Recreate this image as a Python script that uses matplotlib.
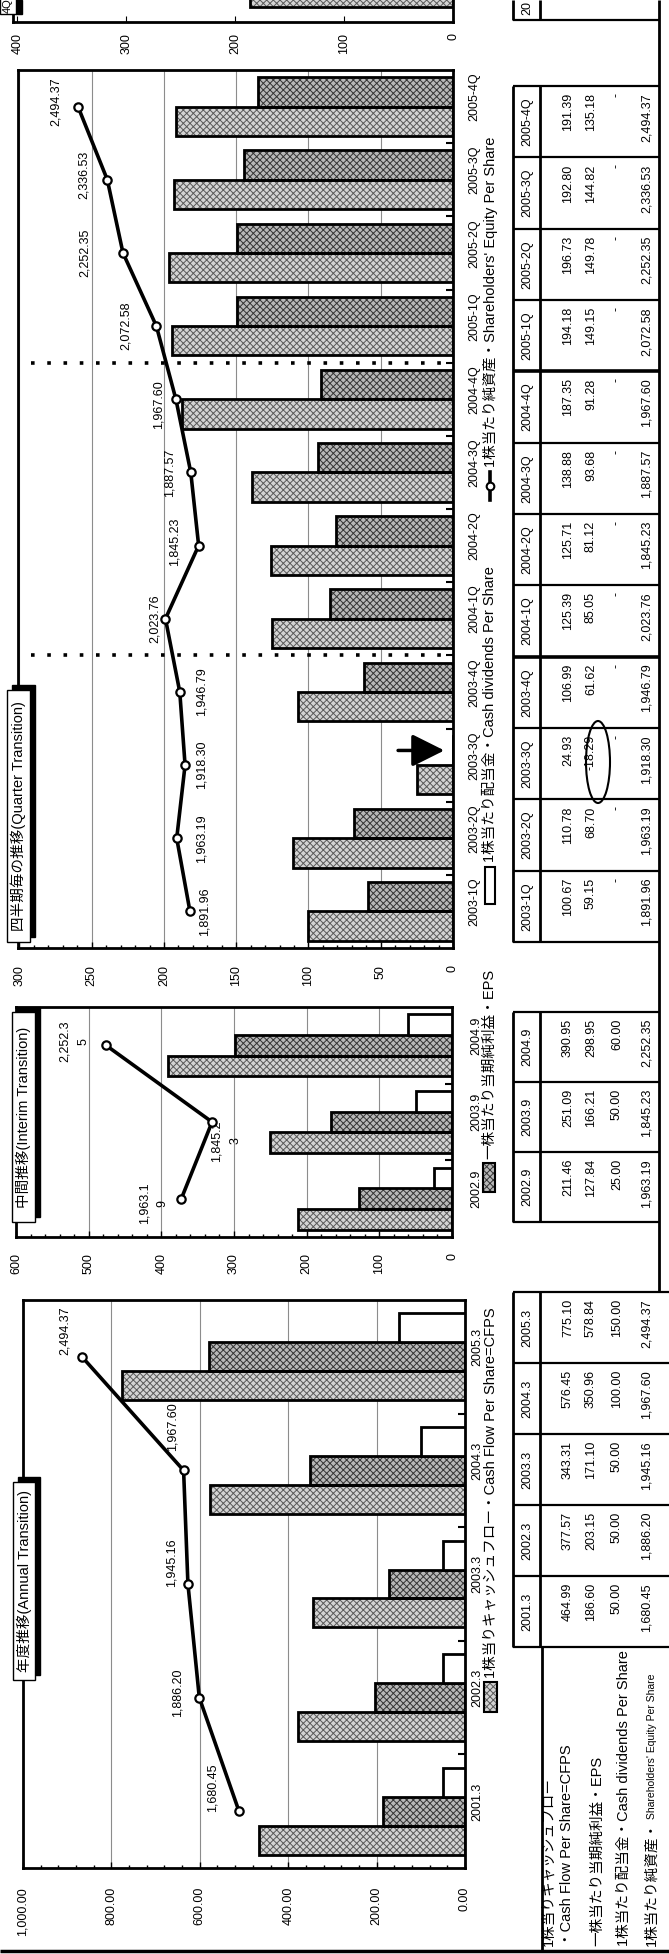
import matplotlib.pyplot as plt
from matplotlib import font_manager, transforms
from matplotlib.patches import Rectangle, Ellipse
from matplotlib.lines import Line2D
from matplotlib.ticker import MultipleLocator

# per share figures (page is turned 90 degrees)

# annual
annual_years = ['2001.3', '2002.3', '2003.3', '2004.3', '2005.3']
annual_cfps = [464.99, 377.57, 343.31, 576.45, 775.10]
annual_eps = [186.60, 203.15, 171.10, 350.96, 578.84]
annual_div = [50.00, 50.00, 50.00, 100.00, 150.00]
annual_bps = [1680.45, 1886.20, 1945.16, 1967.60, 2494.37]

# interim
interim_years = ['2002.9', '2003.9', '2004.9']
interim_cfps = [211.46, 251.09, 390.95]
interim_eps = [127.84, 166.21, 298.95]
interim_div = [25.00, 50.00, 60.00]
interim_bps = [1963.19, 1845.23, 2252.35]

# quarterly
quarters = ['2003-1Q', '2003-2Q', '2003-3Q', '2003-4Q', '2004-1Q', '2004-2Q',
            '2004-3Q', '2004-4Q', '2005-1Q', '2005-2Q', '2005-3Q', '2005-4Q']
q_cfps = [100.67, 110.78, 24.93, 106.99, 125.39, 125.71,
          138.88, 187.35, 194.18, 196.73, 192.80, 191.39]
q_eps = [59.15, 68.70, -18.29, 61.62, 85.05, 81.12,
         93.68, 91.28, 149.15, 149.78, 144.82, 135.18]
q_div = [None, None, None, None, None, None,
         None, None, None, None, None, None]
q_bps = [1891.96, 1963.19, 1918.30, 1946.79, 2023.76, 1845.23,
         1887.57, 1967.60, 2072.58, 2252.35, 2336.53, 2494.37]

# axis ticks
annual_ticks = [0, 200, 400, 600, 800, 1000]
interim_ticks = [0, 100, 200, 300, 400, 500, 600]
quarter_ticks = [0, 50, 100, 150, 200, 250, 300]
top_ticks = [0, 100, 200, 300, 400]
top_cut_bar = [186]   # bottom end of a bar of the next (cut off) panel

row_labels = ['1株当りキャッシュフロー', '・Cash Flow Per Share=CFPS',
              '一株当たり当期純利益・EPS', '1株当たり配当金・Cash dividends Per Share',
              '1株当たり純資産・']
row_label_small = "Shareholders' Equity Per Share"
legend_cfps = '1株当りキャッシュフロー・Cash Flow Per Share=CFPS'
legend_eps = '一株当たり当期純利益・EPS'
legend_div = '1株当たり配当金・Cash dividends Per Share'
legend_bps = "1株当たり純資産・Shareholders' Equity Per Share"

# ---- fonts ----
names = {f.name for f in font_manager.fontManager.ttflist}
LAT = 'Liberation Sans' if 'Liberation Sans' in names else 'DejaVu Sans'
NAR = 'Liberation Sans Narrow' if 'Liberation Sans Narrow' in names else LAT
JP = 'Noto Sans CJK JP'
plt.rcParams['font.family'] = [LAT, JP]
plt.rcParams['hatch.linewidth'] = 0.7
NARROW = [NAR, JP]

W, H = 669, 1954
fig = plt.figure(figsize=(W / 100, H / 100), dpi=100)
fig.patch.set_facecolor('white')


def fx(x):
    return x / W


def fy(y):
    return 1 - y / H


def px_rect(x0, y0, x1, y1):
    return [fx(x0), fy(y1), (x1 - x0) / W, (y1 - y0) / H]


def seg(x0, y0, x1, y1, lw=1.5):
    fig.add_artist(Line2D([fx(x0), fx(x1)], [fy(y0), fy(y1)], color='black',
                          lw=lw, solid_capstyle='butt'))


def rtext(x, y, s, **kw):
    kw.setdefault('rotation', 90)
    return fig.text(fx(x), fy(y), s, **kw)


CFPS_STYLE = ('#d4d4d4', '#5a5a5a')
EPS_STYLE = ('#b8b8b8', '#343434')


def pattern_bars(ax, pos, vals, h, style):
    ax.barh(pos, vals, height=h, color=style[0], edgecolor=style[1], hatch='xxxxx',
            linewidth=0, zorder=2)
    ax.barh(pos, vals, height=h, fill=False, edgecolor='black', linewidth=2, zorder=3)


def white_bars(ax, pos, vals, h):
    ax.barh(pos, vals, height=h, color='white', edgecolor='black', linewidth=2, zorder=3)


def setup_chart(box, vmax, ticks, fmt, n, pad, minor):
    ax = fig.add_axes(px_rect(*box))
    ax.set_xlim(vmax, 0)
    ax.set_ylim(-0.5, n - 0.5)
    ax.set_xticks(ticks)
    ax.set_xticklabels([fmt.format(t) for t in ticks], rotation=90, fontsize=9)
    ax.xaxis.set_minor_locator(MultipleLocator(minor))
    ax.tick_params(axis='x', which='both', direction='in', length=4, width=1,
                   pad=pad, top=False)
    ax.tick_params(axis='x', which='minor', length=2.5)
    ax.yaxis.tick_right()
    ax.set_yticks([i + 0.5 for i in range(n - 1)])
    ax.tick_params(axis='y', direction='in', length=5, width=1.5, labelright=False)
    for s in ax.spines.values():
        s.set_linewidth(2)
    ax.grid(axis='x', color='#8c8c8c', lw=0.8)
    ax.set_axisbelow(True)
    return ax


def bps_line(ax, vals, lim, texts, offsets):
    ax2 = ax.twiny()
    ax2.set_xlim(*lim)
    ax2.axis('off')
    ys = list(range(len(vals)))
    ax2.plot(vals, ys, color='black', lw=2.6, marker='o', ms=6, mfc='white',
             mec='black', mew=1.6, zorder=5)
    for v, y, t, (dx, dy) in zip(vals, ys, texts, offsets):
        ax2.annotate(t, (v, y), xytext=(dx * 0.72, -dy * 0.72), textcoords='offset points',
                     rotation=90, ha='center', va='center', fontsize=9,
                     linespacing=1.7, multialignment='center')
    return ax2


def cat_labels(ax, labels, xpx):
    tr = transforms.blended_transform_factory(fig.transFigure, ax.transData)
    tr = transforms.offset_copy(tr, fig=fig, y=7, units='points')
    for i, lab in enumerate(labels):
        ax.text(fx(xpx), i, lab, transform=tr, rotation=90, ha='center', va='center',
                fontsize=9, family=NARROW, clip_on=False)


def title_box(x0, y0, x1, y1, text):
    fig.add_artist(Rectangle((fx(x0 + 5), fy(y1 - 5)), (x1 - x0) / W, (y1 - y0) / H,
                             transform=fig.transFigure, color='black', zorder=4))
    fig.add_artist(Rectangle((fx(x0), fy(y1)), (x1 - x0) / W, (y1 - y0) / H,
                             transform=fig.transFigure, facecolor='white',
                             edgecolor='black', lw=1, zorder=5))
    t = rtext((x0 + x1) / 2, (y0 + y1) / 2, text, ha='center', va='center', fontsize=10.5)
    t.set_zorder(6)


def legend_patch(x0, y0, x1, y1, style=None):
    if style is None:
        p = Rectangle((fx(x0), fy(y1)), (x1 - x0) / W, (y1 - y0) / H, transform=fig.transFigure,
                      facecolor='white', edgecolor='black', lw=1.5, zorder=6)
        fig.add_artist(p)
        return
    fig.add_artist(Rectangle((fx(x0), fy(y1)), (x1 - x0) / W, (y1 - y0) / H,
                             transform=fig.transFigure, facecolor=style[0],
                             edgecolor=style[1], hatch='xxxxx', lw=0, zorder=6))
    fig.add_artist(Rectangle((fx(x0), fy(y1)), (x1 - x0) / W, (y1 - y0) / H,
                             transform=fig.transFigure, fill=False,
                             edgecolor='black', lw=1.5, zorder=7))


def val_fmt(v):
    return '-' if v is None else f'{v:,.2f}'


VAL_X = [568, 591, 617, 647]


def draw_table(cols, series, y_top, pitch, thick=(), right=659):
    n = len(cols)
    y_bot = y_top + n * pitch
    seg(513, y_top, 513, y_bot, 2)
    seg(540, y_top, 540, y_bot, 2)
    for k in range(n + 1):
        yk = y_top + k * pitch
        seg(513, yk, right, yk, 2.6 if k in thick else 1.6)
    for k, col in enumerate(cols):
        yc = y_top + (k + 0.5) * pitch
        rtext(527, yc, col, ha='center', va='center', fontsize=9, family=NARROW)
        for xv, vals in zip(VAL_X, series):
            rtext(xv, y_top + k * pitch + 7, val_fmt(vals[k]), rotation_mode='anchor',
                  ha='right', va='center', fontsize=9)


# ---------------- annual chart ----------------
ax_a = setup_chart((23, 1300, 465, 1868), 1000, annual_ticks, '{:,.2f}', 5, 13.5, 40)
bw = 0.255
pattern_bars(ax_a, [i - bw for i in range(5)], annual_cfps, bw, CFPS_STYLE)
pattern_bars(ax_a, list(range(5)), annual_eps, bw, EPS_STYLE)
white_bars(ax_a, [i + bw for i in range(5)], annual_div, bw)
bps_line(ax_a, annual_bps, (2800, 509), [f'{v:,.2f}' for v in annual_bps],
         [(-26, -23), (-22, -5), (-16, -21), (-11, -44), (-17, -26)])
cat_labels(ax_a, annual_years, 477)
title_box(13, 1482, 35, 1680, '年度推移(Annual Transition)')

# ---------------- interim chart ----------------
ax_i = setup_chart((16, 1007, 452, 1237), 600, interim_ticks, '{:d}', 3, 11.5, 20)
bw = 0.27
pattern_bars(ax_i, [i - bw for i in range(3)], interim_cfps, bw, CFPS_STYLE)
pattern_bars(ax_i, list(range(3)), interim_eps, bw, EPS_STYLE)
white_bars(ax_i, [i + bw for i in range(3)], interim_div, bw)
itexts = [f'{v:,.2f}'[:-1] + '\n' + f'{v:,.2f}'[-1] for v in interim_bps]
bps_line(ax_i, interim_bps, (2598, 924), itexts, [(-28, 5), (14, 19), (-32, -4)])
cat_labels(ax_i, interim_years, 476)
title_box(12, 1012, 35, 1222, '中間推移(Interim Transition)')

# ---------------- quarterly chart ----------------
ax_q = setup_chart((18, 70, 453, 948), 301, quarter_ticks, '{:d}', 12, 12, 10)
bw = 0.40
pattern_bars(ax_q, [i - bw / 2 for i in range(12)], q_cfps, bw, CFPS_STYLE)
pattern_bars(ax_q, [i + bw / 2 for i in range(12)], q_eps, bw, EPS_STYLE)
for yb in (3.5, 7.5):
    ax_q.axhline(yb, xmin=0.03, color='black', lw=2.6, ls=(0, (1, 3.5)), zorder=4)
ax_q.annotate('', xy=(6, 2 + bw / 2), xytext=(38, 2 + bw / 2),
              arrowprops=dict(arrowstyle='-|>,head_length=0.9,head_width=0.45',
                              color='black', lw=2.5, mutation_scale=22,
                              shrinkA=0, shrinkB=0), zorder=6)
bps_line(ax_q, q_bps, (2817, 477), [f'{v:,.2f}' for v in q_bps],
         [(15, 0), (25, 0), (16, 0), (22, 0), (-11, 0), (-24, -4),
          (-21, 0), (-17, 5), (-31, 0), (-38, 0), (-24, -5), (-22, -5)])
cat_labels(ax_q, quarters, 474)
title_box(7, 690, 30, 942, '四半期毎の推移(Quarter Transition)')

# ---------------- next panel, cut off by the page edge ----------------
ax_t = fig.add_axes(px_rect(13, -200, 453, 22))
ax_t.set_xlim(404, 0)
ax_t.set_ylim(-1, 8)
pattern_bars(ax_t, [0], top_cut_bar, 0.8, CFPS_STYLE)
ax_t.set_xticks(top_ticks)
ax_t.set_xticklabels([str(t) for t in top_ticks], rotation=90, fontsize=9)
ax_t.tick_params(axis='x', direction='in', length=4, pad=8, top=False)
ax_t.set_yticks([])
for s in ax_t.spines.values():
    s.set_linewidth(2)
fig.add_artist(Rectangle((fx(16), fy(14)), 6 / W, 14 / H, transform=fig.transFigure,
                         color='black', zorder=4))
fig.add_artist(Rectangle((fx(0), fy(14)), 16 / W, 16 / H, transform=fig.transFigure,
                         facecolor='white', edgecolor='black', lw=1, zorder=5))
rtext(8, 6, '4Q', ha='center', va='center', fontsize=8).set_zorder(6)

# ---------------- legends (split over the three panels) ----------------
legend_patch(484, 1682, 497, 1712, CFPS_STYLE)
rtext(491, 1678, legend_cfps, rotation_mode='anchor', ha='left', va='center', fontsize=10.5)
legend_patch(483, 1163, 495, 1192, EPS_STYLE)
rtext(489, 1159, legend_eps, rotation_mode='anchor', ha='left', va='center', fontsize=10.5)
legend_patch(485, 867, 495, 904)
rtext(490, 862, legend_div, rotation_mode='anchor', ha='left', va='center', fontsize=10.5)
fig.add_artist(Line2D([fx(490), fx(490)], [fy(500), fy(472)], color='black', lw=2.6,
                      zorder=6))
fig.add_artist(Line2D([fx(490)], [fy(486)], color='black', marker='o', ms=5.5,
                      mfc='white', mec='black', mew=1.5, zorder=7))
rtext(490, 467, legend_bps, rotation_mode='anchor', ha='left', va='center', fontsize=10.5)

# ---------------- tables ----------------
q_order = list(range(11, -1, -1))
draw_table([quarters[k] for k in q_order],
           [[s[k] for k in q_order] for s in (q_cfps, q_eps, q_div, q_bps)],
           86, (942 - 86) / 12, thick=(4, 8))
i_order = [2, 1, 0]
draw_table([interim_years[k] for k in i_order],
           [[s[k] for k in i_order] for s in (interim_cfps, interim_eps, interim_div, interim_bps)],
           1012, 70)
a_order = [4, 3, 2, 1, 0]
draw_table([annual_years[k] for k in a_order],
           [[s[k] for k in a_order] for s in (annual_cfps, annual_eps, annual_div, annual_bps)],
           1292, 71, right=669)
seg(542, 1647, 542, 1952, 2)
seg(659, 0, 659, 1292, 2)
seg(513, 20, 659, 20, 1.6)
seg(513, 0, 513, 20, 2)
seg(540, 0, 540, 20, 2)
rtext(527, 8, '20', ha='center', va='center', fontsize=9, family=NARROW)
seg(0, 1951, 669, 1951, 2.5)

# row labels of the annual table
label_x = [549, 567, 597, 624, 652]
for xl, lab in zip(label_x, row_labels):
    t = rtext(xl, 1946, lab, rotation_mode='anchor', ha='left', va='center', fontsize=10.5)
renderer = fig.canvas.get_renderer()
bb = t.get_window_extent(renderer)
fig.text(fx(652), bb.y1 / H + 2 / H, row_label_small, rotation=90, rotation_mode='anchor',
         ha='left', va='center', fontsize=7.5)

# the circled negative EPS in 2003-3Q
fig.add_artist(Ellipse((fx(598), fy(762)), 24 / W, 82 / H, transform=fig.transFigure,
                       fill=False, edgecolor='black', lw=1.5, zorder=6))

fig.savefig('out.png', dpi=100, facecolor='white')
